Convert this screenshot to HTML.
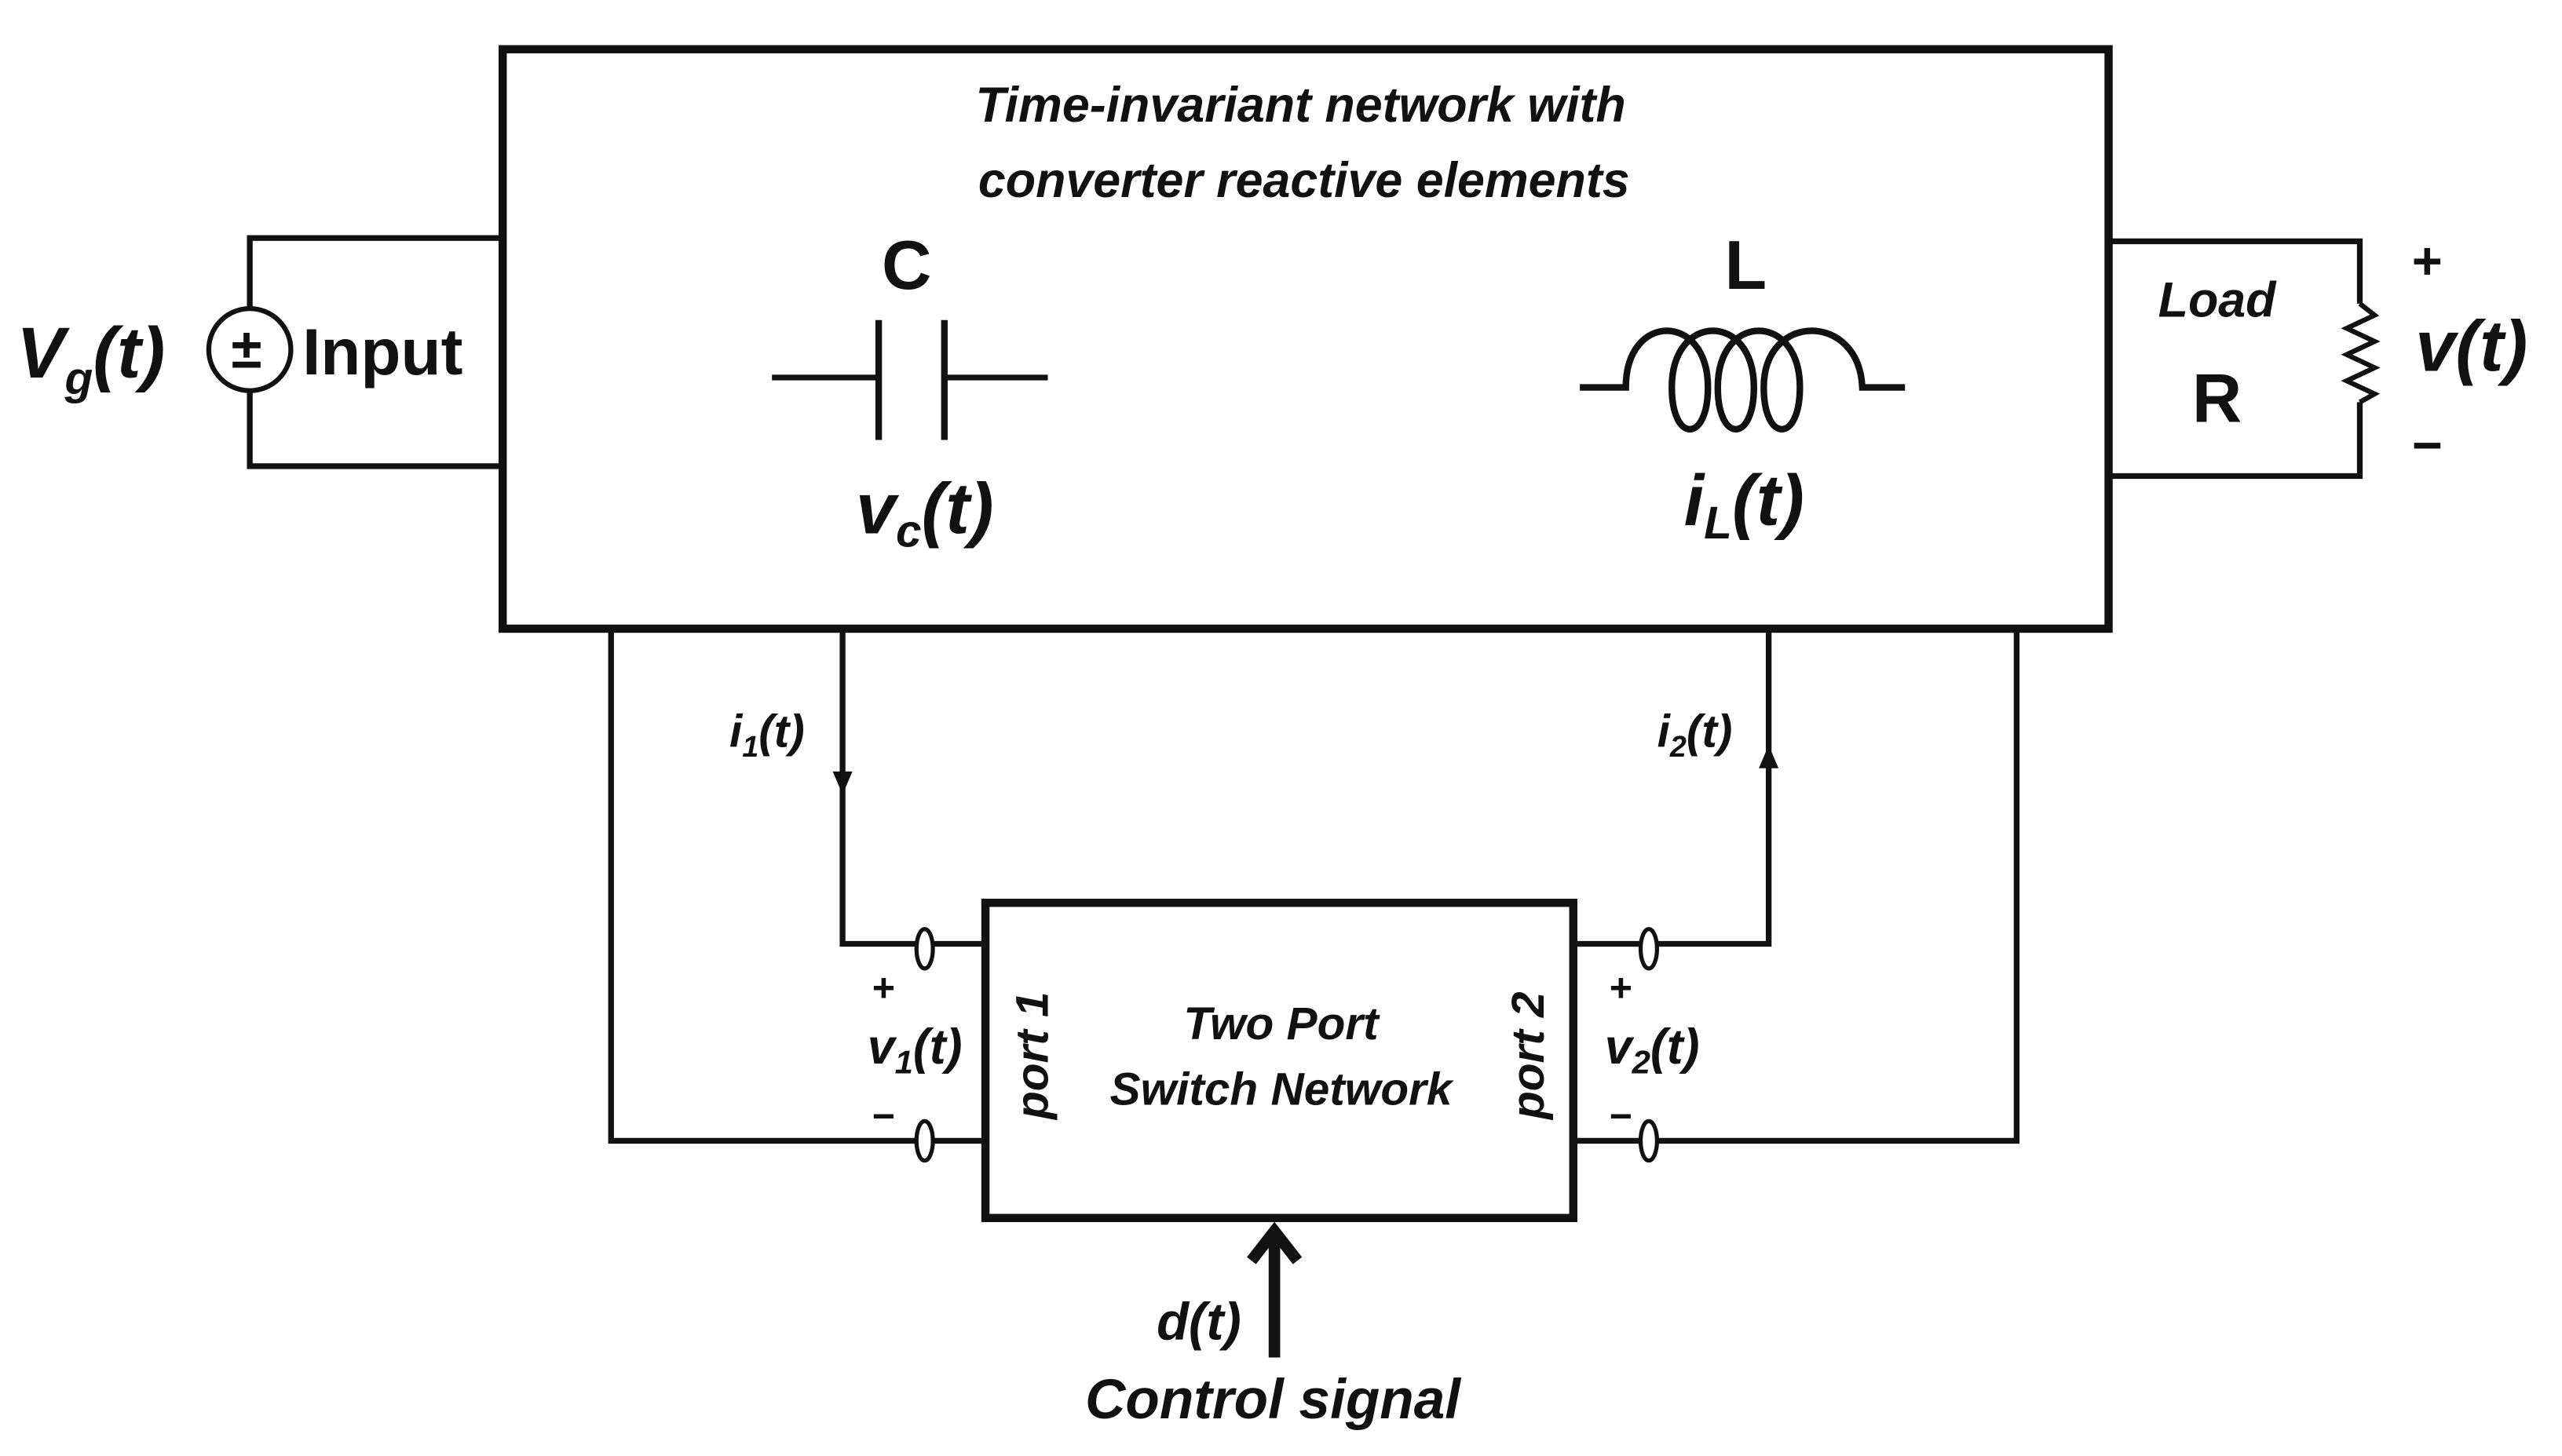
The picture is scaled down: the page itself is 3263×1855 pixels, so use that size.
<!DOCTYPE html>
<html><head><style>
html,body{margin:0;padding:0;background:#fff;}
svg{display:block;}
text{font-family:"Liberation Sans","DejaVu Sans",sans-serif;font-weight:bold;fill:#111;}
.it{font-style:italic;}
</style></head><body>
<svg width="3263" height="1855" viewBox="0 0 1560 887" xmlns="http://www.w3.org/2000/svg">
<g fill="none" stroke="#111" stroke-width="3.5">
<rect x="306" y="30" width="978" height="353" stroke-width="5"/>
<!-- capacitor -->
<line x1="470" y1="230" x2="535" y2="230"/>
<line x1="535" y1="195" x2="535" y2="268" stroke-width="4"/>
<line x1="575" y1="195" x2="575" y2="268" stroke-width="4"/>
<line x1="575" y1="230" x2="638" y2="230"/>
<!-- inductor -->
<path d="M962 236 H990 C990 190 1040 190 1040 236 C1040 270 1018 270 1018 236 C1018 190 1068 190 1068 236 C1068 270 1046 270 1046 236 C1046 190 1096 190 1096 236 C1096 270 1074 270 1074 236 C1074 190 1132 190 1134 236 H1160" stroke-width="4"/>
<!-- input wires -->
<polyline points="306,145 152,145 152,188"/>
<polyline points="152,238 152,284 306,284"/>
<circle cx="152" cy="213" r="25" stroke-width="3"/>
<!-- load wires -->
<polyline points="1284,147 1437,147 1437,185"/>
<polyline points="1437,245 1437,290 1284,290"/>
<polyline points="1437,185 1446,192 1429,200 1446,208 1429,216 1446,224 1429,232 1446,240 1437,245" stroke-width="3"/>
<!-- lower wires -->
<polyline points="372,383 372,695 558,695"/>
<polyline points="513,383 513,575 558,575"/>
<polyline points="1077,383 1077,575 1009,575"/>
<polyline points="1228,383 1228,695 1009,695"/>
<line x1="568" y1="575" x2="600" y2="575"/>
<line x1="568" y1="695" x2="600" y2="695"/>
<line x1="958" y1="575" x2="999" y2="575"/>
<line x1="958" y1="695" x2="999" y2="695"/>
<rect x="600" y="550" width="358" height="192" stroke-width="5"/>
<ellipse cx="563" cy="578" rx="5" ry="12" stroke-width="2.5" fill="#fff"/>
<ellipse cx="563" cy="695" rx="5" ry="12" stroke-width="2.5" fill="#fff"/>
<ellipse cx="1004" cy="578" rx="5" ry="12" stroke-width="2.5" fill="#fff"/>
<ellipse cx="1004" cy="695" rx="5" ry="12" stroke-width="2.5" fill="#fff"/>
<line x1="776" y1="827" x2="776" y2="752" stroke-width="7"/>
<polyline points="762,768 776,750 790,768" stroke-width="7"/>
</g>
<polygon points="507,470 519,470 513,484" fill="#111"/>
<polygon points="1071,468 1083,468 1077,454" fill="#111"/>
<text x="150" y="224" font-size="34" text-anchor="middle">±</text>
<text class="it" x="792" y="74" font-size="30" text-anchor="middle">Time-invariant network with</text>
<text class="it" x="794" y="120" font-size="30" text-anchor="middle">converter reactive elements</text>
<text x="552" y="176" font-size="42" text-anchor="middle">C</text>
<text x="1063" y="176" font-size="42" text-anchor="middle">L</text>
<text class="it" x="563" y="325" font-size="44" text-anchor="middle">v<tspan font-size="28" dy="8">c</tspan><tspan dy="-8">(t)</tspan></text>
<text class="it" x="1062" y="320" font-size="44" text-anchor="middle">i<tspan font-size="28" dy="8">L</tspan><tspan dy="-8">(t)</tspan></text>
<text class="it" x="10" y="230" font-size="44">V<tspan font-size="28" dy="10">g</tspan><tspan dy="-10">(t)</tspan></text>
<text x="184" y="228" font-size="40">Input</text>
<text class="it" x="1350" y="193" font-size="30" text-anchor="middle">Load</text>
<text x="1350" y="257" font-size="42" text-anchor="middle">R</text>
<text x="1478" y="170" font-size="32" text-anchor="middle">+</text>
<text class="it" x="1505" y="226" font-size="44" text-anchor="middle">v(t)</text>
<text x="1478" y="282" font-size="32" text-anchor="middle">−</text>
<text class="it" x="467" y="455" font-size="28" text-anchor="middle">i<tspan font-size="18" dy="6">1</tspan><tspan dy="-6">(t)</tspan></text>
<text class="it" x="1032" y="455" font-size="28" text-anchor="middle">i<tspan font-size="18" dy="6">2</tspan><tspan dy="-6">(t)</tspan></text>
<text class="it" x="780" y="633" font-size="28" text-anchor="middle">Two Port</text>
<text class="it" x="780" y="673" font-size="28" text-anchor="middle">Switch Network</text>
<text class="it" x="0" y="0" font-size="28" text-anchor="middle" transform="translate(638,643) rotate(-90)">port 1</text>
<text class="it" x="0" y="0" font-size="28" text-anchor="middle" transform="translate(940,643) rotate(-90)">port 2</text>
<text x="538" y="610" font-size="24" text-anchor="middle">+</text>
<text x="538" y="688" font-size="24" text-anchor="middle">−</text>
<text x="987" y="610" font-size="24" text-anchor="middle">+</text>
<text x="987" y="688" font-size="24" text-anchor="middle">−</text>
<text class="it" x="557" y="648" font-size="30" text-anchor="middle">v<tspan font-size="20" dy="6">1</tspan><tspan dy="-6">(t)</tspan></text>
<text class="it" x="1006" y="648" font-size="30" text-anchor="middle">v<tspan font-size="20" dy="6">2</tspan><tspan dy="-6">(t)</tspan></text>
<text class="it" x="730" y="816" font-size="32" text-anchor="middle">d(t)</text>
<text class="it" x="775" y="864" font-size="34" text-anchor="middle">Control signal</text>
</svg>
</body></html>
